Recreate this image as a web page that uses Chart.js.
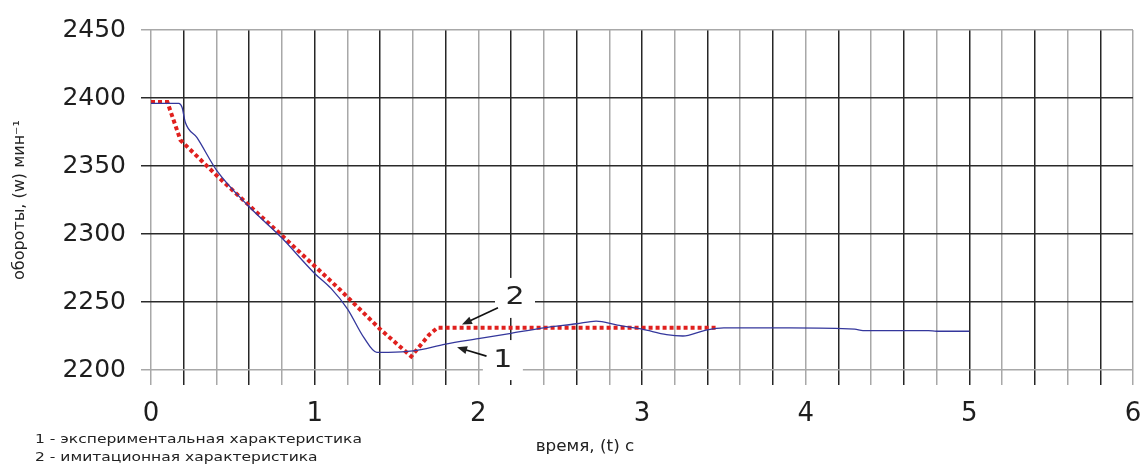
<!DOCTYPE html>
<html>
<head>
<meta charset="utf-8">
<script src="https://cdn.jsdelivr.net/npm/chart.js@4/dist/chart.umd.min.js"></script>
<style>
html, body { margin: 0; padding: 0; background: #fff; }
</style>
</head>
<body>
<canvas id="myChart" width="1141" height="467"></canvas>
<script>
// 1 - экспериментальная характеристика
var expT = [0, 0.17, 0.19, 0.21, 0.28, 0.4, 0.6, 0.8, 1.0, 1.1, 1.2, 1.3, 1.38, 1.45, 1.6, 1.8, 2.0, 2.2, 2.4, 2.6, 2.72, 2.85, 3.0, 3.15, 3.25, 3.38, 3.5, 3.9, 4.3, 4.35, 4.75, 4.8, 5.0];
var expW = [2396, 2396, 2393, 2382, 2371, 2347, 2320, 2297, 2271, 2260, 2245, 2224, 2213, 2213, 2214, 2219, 2223, 2227, 2231, 2234, 2236, 2233, 2230, 2226, 2225, 2229, 2231, 2231, 2230, 2229, 2229, 2228.5, 2228.5];

// 2 - имитационная характеристика
var simT = [0, 0.1, 0.18, 0.41, 0.79, 1.155, 1.4, 1.59, 1.7, 1.75, 3.46];
var simW = [2397, 2397, 2369, 2342, 2300, 2259, 2230, 2210, 2226, 2231, 2231];

var yTicks = [2200, 2250, 2300, 2350, 2400, 2450];
var xLabels = [0, 1, 2, 3, 4, 5, 6];

var notes = ['1 - экспериментальная характеристика', '2 - имитационная характеристика'];
var xTitle = 'время, (t) с';
var yTitle = 'обороты, (w) мин\u207B\u00B9';

// выноски "1" и "2" (в координатах графика)
var callouts = [
    { text: '2', lx: 2.224, ly: 2253, fx: 2.12, fy: 2245.8, tx: 1.90, ty: 2233.4 },
    { text: '1', lx: 2.15, ly: 2207.3, fx: 2.05, fy: 2210.2, tx: 1.87, ty: 2216.7 }
];

function toPoints(xs, ys) {
    var pts = [];
    for (var i = 0; i < xs.length; i++) pts.push({ x: xs[i], y: ys[i] });
    return pts;
}

function stretchText(ctx, txt, x, y, sx, align) {
    ctx.save();
    ctx.translate(x, y);
    ctx.scale(sx, 1);
    ctx.textAlign = align || 'left';
    ctx.fillText(txt, 0, 0);
    ctx.restore();
}

var extras = {
    id: 'extras',
    beforeDatasetsDraw: function (chart) {
        var ctx = chart.ctx;
        var xs = chart.scales.x, ys = chart.scales.y;
        ctx.save();
        ctx.fillStyle = '#fff';
        callouts.forEach(function (c) {
            var px = xs.getPixelForValue(c.lx), py = ys.getPixelForValue(c.ly);
            ctx.fillRect(px - 20, py - 20, 40, 40);
        });
        ctx.restore();
    },
    afterDraw: function (chart) {
        var ctx = chart.ctx;
        var xs = chart.scales.x, ys = chart.scales.y;
        ctx.save();
        ctx.fillStyle = '#222';
        ctx.strokeStyle = '#111';
        ctx.lineWidth = 1.6;
        callouts.forEach(function (c) {
            var px = xs.getPixelForValue(c.lx), py = ys.getPixelForValue(c.ly);
            ctx.font = '25px "DejaVu Sans"';
            ctx.textBaseline = 'middle';
            stretchText(ctx, c.text, px, py, 1.2, 'center');
            var x1 = xs.getPixelForValue(c.fx), y1 = ys.getPixelForValue(c.fy);
            var x2 = xs.getPixelForValue(c.tx), y2 = ys.getPixelForValue(c.ty);
            var a = Math.atan2(y2 - y1, x2 - x1);
            ctx.beginPath();
            ctx.moveTo(x1, y1);
            ctx.lineTo(x2 - 6 * Math.cos(a), y2 - 6 * Math.sin(a));
            ctx.stroke();
            ctx.beginPath();
            ctx.moveTo(x2, y2);
            ctx.lineTo(x2 - 10 * Math.cos(a) + 4 * Math.sin(a), y2 - 10 * Math.sin(a) - 4 * Math.cos(a));
            ctx.lineTo(x2 - 10 * Math.cos(a) - 4 * Math.sin(a), y2 - 10 * Math.sin(a) + 4 * Math.cos(a));
            ctx.closePath();
            ctx.fill();
        });

        ctx.textBaseline = 'middle';
        ctx.font = '15px "DejaVu Sans"';
        stretchText(ctx, xTitle, 585, 447, 1.12, 'center');

        ctx.font = '12px "DejaVu Sans"';
        var sx = 327 / ctx.measureText(notes[0]).width;
        stretchText(ctx, notes[0], 35, 440, sx, 'left');
        stretchText(ctx, notes[1], 35, 458, sx, 'left');
        ctx.restore();
    }
};

var ctx = document.getElementById('myChart').getContext('2d');
var chart = new Chart(ctx, {
    type: 'line',
    data: {
        datasets: [{
            label: '1',
            data: toPoints(expT, expW),
            borderColor: '#34379c',
            borderWidth: 1.3,
            pointRadius: 0,
            cubicInterpolationMode: 'monotone',
            fill: false
        }, {
            label: '2',
            data: toPoints(simT, simW),
            borderColor: '#e0201e',
            borderWidth: 4,
            borderDash: [4, 3],
            pointRadius: 0,
            tension: 0,
            fill: false
        }]
    },
    options: {
        responsive: false,
        animation: false,
        devicePixelRatio: 1,
        layout: { padding: { top: 26, right: 0, left: 0, bottom: 0 } },
        plugins: {
            legend: { display: false },
            tooltip: { enabled: false }
        },
        scales: {
            x: {
                type: 'linear',
                min: 0,
                max: 6,
                afterFit: function (s) {
                    s.height = 97;
                    s.paddingLeft = 0;
                    s.paddingRight = 8;
                },
                border: { display: false },
                grid: {
                    tickLength: 15,
                    lineWidth: 1.5,
                    color: function (c) {
                        return c.index % 2 === 1 ? '#262626' : '#a8a8a8';
                    }
                },
                ticks: {
                    stepSize: 0.2,
                    autoSkip: false,
                    maxTicksLimit: 100,
                    maxRotation: 0,
                    padding: 14,
                    color: '#1e1e1e',
                    font: { family: '"DejaVu Sans"', size: 26 },
                    callback: function (v) {
                        var r = Math.round(v);
                        return (Math.abs(v - r) < 1e-6 && xLabels.indexOf(r) >= 0) ? String(r) : '';
                    }
                }
            },
            y: {
                min: yTicks[0],
                max: yTicks[yTicks.length - 1],
                afterFit: function (s) { s.width = 151; },
                afterBuildTicks: function (s) {
                    s.ticks = yTicks.map(function (v) { return { value: v }; });
                },
                border: { display: false },
                grid: {
                    tickLength: 10,
                    lineWidth: 1.5,
                    color: function (c) {
                        var v = c.tick ? c.tick.value : 0;
                        return (v === 2200 || v === 2450) ? '#a8a8a8' : '#2a2a2a';
                    }
                },
                ticks: {
                    padding: 15,
                    color: '#1e1e1e',
                    font: { family: '"DejaVu Sans"', size: 25 },
                    callback: function (v) { return String(v); }
                },
                title: {
                    display: true,
                    text: yTitle,
                    color: '#222',
                    padding: { top: 10, bottom: 0 },
                    font: { family: '"DejaVu Sans"', size: 16 }
                }
            }
        }
    },
    plugins: [extras]
});
</script>
</body>
</html>
